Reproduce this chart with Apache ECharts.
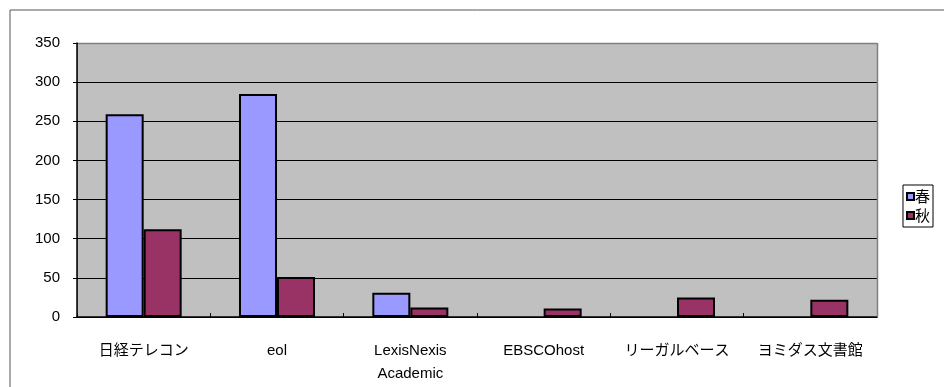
<!DOCTYPE html>
<html><head><meta charset="utf-8">
<script src="https://cdn.jsdelivr.net/npm/echarts@6/dist/echarts.min.js"></script>
<style>html,body{margin:0;padding:0;background:#fff}#c{width:944px;height:387px}</style>
</head><body><div id="c"></div>
<script>
const categories = ['日経テレコン', 'eol', 'LexisNexis\nAcademic', 'EBSCOhost', 'リーガルベース', 'ヨミダス文書館'];
const springValues = [259, 285, 31, null, null, null];
const autumnValues = [112, 51, 12, 11, 25, 22];
const seriesNames = ['春', '秋'];
const yTicks = [0, 50, 100, 150, 200, 250, 300, 350];

const chart = echarts.init(document.getElementById('c'), null, {renderer: 'canvas'});
const font = '"Liberation Sans", "Noto Sans CJK JP", sans-serif';
chart.setOption({
  animation: false,
  backgroundColor: '#fff',
  textStyle: {fontFamily: font},
  graphic: [{
    type: 'rect', left: 7.5, top: 7.5, z: -1,
    shape: {width: 960, height: 400},
    style: {fill: 'none', stroke: '#555', lineWidth: 1}
  }, {
    type: 'rect', left: 77, top: 43, z: -2,
    shape: {width: 800, height: 274},
    style: {fill: '#C0C0C0', stroke: '#808080', lineWidth: 1}
  }, {
    type: 'line', z: 100,
    shape: {x1: 78, y1: 43.5, x2: 877, y2: 43.5},
    style: {stroke: '#808080', lineWidth: 1.5}
  }, {
    type: 'line', z: 100,
    shape: {x1: 877.5, y1: 43, x2: 877.5, y2: 317},
    style: {stroke: '#808080', lineWidth: 1.5}
  }],
  grid: {left: 77, right: 67, top: 43, bottom: 70, containLabel: false},
  legend: {
    orient: 'vertical', right: 11, top: 185,
    data: seriesNames,
    itemWidth: 7, itemHeight: 7, itemGap: 4,
    padding: [4, 3, 4, 3],
    borderColor: '#000', borderWidth: 1, backgroundColor: '#fff',
    textStyle: {fontSize: 15, fontFamily: '"Noto Sans CJK JP", sans-serif', color: '#000', padding: [0, 0, 0, -4]},
    icon: 'rect'
  },
  xAxis: {
    type: 'category', data: categories,
    axisLine: {lineStyle: {color: '#000', width: 1.5}},
    axisTick: {show: true, inside: true, length: 4, interval: 0, lineStyle: {color: '#000'}},
    axisLabel: {interval: 0, margin: 22, fontSize: 15, color: '#000', lineHeight: 23,
      fontFamily: '"Liberation Sans", "Noto Sans CJK JP", sans-serif'}
  },
  yAxis: {
    type: 'value', min: 0, max: 350, interval: 50,
    axisLine: {show: true, lineStyle: {color: '#000', width: 1.5}},
    axisTick: {show: true, length: 4, lineStyle: {color: '#000'}},
    axisLabel: {fontSize: 15, color: '#000', margin: 17,
      formatter: v => yTicks.includes(v) ? String(v) : ''},
    splitLine: {show: true, lineStyle: {color: '#000', width: 1}}
  },
  series: [{
    name: seriesNames[0], type: 'bar', data: springValues,
    barGap: '0%', barCategoryGap: '43%',
    itemStyle: {color: '#9999FF', borderColor: '#000', borderWidth: 2}
  }, {
    name: seriesNames[1], type: 'bar', data: autumnValues,
    barGap: '0%', barCategoryGap: '43%',
    itemStyle: {color: '#993366', borderColor: '#000', borderWidth: 2}
  }]
});
</script></body></html>
